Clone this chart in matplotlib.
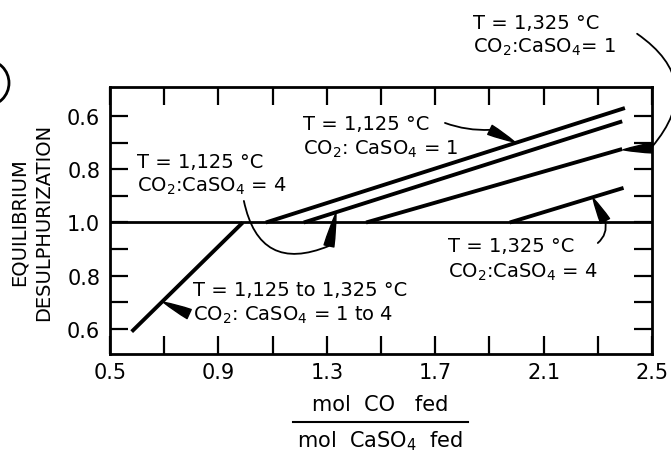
import numpy as np
import matplotlib
matplotlib.use("Agg")
import matplotlib.pyplot as plt
from matplotlib.lines import Line2D
from matplotlib.patches import Ellipse

# plotted y is a folded scale: 0 is desulphurization 1.0, +/-0.4 is 0.6
x_common = [0.58, 0.99]
y_common = [-0.41, 0.0]

x_1125_r1 = [1.075, 2.40]
y_1125_r1 = [0.0, 0.43]
x_1125_r4 = [1.215, 2.39]
y_1125_r4 = [0.0, 0.38]
x_1325_r1 = [1.445, 2.39]
y_1325_r1 = [0.0, 0.276]
x_1325_r4 = [1.975, 2.395]
y_1325_r4 = [0.0, 0.13]

x_major = [0.5, 0.9, 1.3, 1.7, 2.1, 2.5]
x_minor = [0.7, 1.1, 1.5, 1.9, 2.3]
y_major = [-0.4, -0.2, 0.0, 0.2, 0.4]
y_major_labels = ['0.6', '0.8', '1.0', '0.8', '0.6']
y_minor = [-0.3, -0.1, 0.1, 0.3]

W, H = 671, 460
FS = 14
LW = 2.8

fig = plt.figure(figsize=(W / 100, H / 100), dpi=100)
ax = fig.add_axes([110 / W, 1 - 355 / H, (652 - 110) / W, (355 - 88) / H])

ax.plot(x_common, y_common, color='black', lw=LW, solid_capstyle='butt')
for xs, ys in [(x_1125_r1, y_1125_r1), (x_1125_r4, y_1125_r4),
               (x_1325_r1, y_1325_r1), (x_1325_r4, y_1325_r4)]:
    ax.plot(xs, ys, color='black', lw=LW, solid_capstyle='butt')
ax.axhline(0.0, color='black', lw=2.0)

ax.set_xlim(0.5, 2.5)
ax.set_ylim(-0.494, 0.509)

ax.set_xticks(x_major)
ax.set_xticklabels([f'{v:.1f}' for v in x_major])
ax.set_xticks(x_minor, minor=True)
ax.set_yticks(y_major)
ax.set_yticklabels(y_major_labels)
ax.set_yticks(y_minor, minor=True)
for which in ('major', 'minor'):
    ax.tick_params(which=which, direction='in', length=13, width=1.6,
                   top=True, right=True, labelsize=15)
ax.tick_params(axis='x', pad=6)
ax.tick_params(axis='y', pad=7)
for sp in ax.spines.values():
    sp.set_linewidth(2.0)

fig.text(19 / W, 1 - 222 / H, 'EQUILIBRIUM', rotation=90, ha='center', va='center', fontsize=14)
fig.text(44 / W, 1 - 222 / H, 'DESULPHURIZATION', rotation=90, ha='center', va='center', fontsize=14)

fig.text(380 / W, 1 - 405 / H, 'mol  CO   fed', ha='center', va='center', fontsize=15)
fig.text(380 / W, 1 - 441 / H, 'mol  CaSO$_4$  fed', ha='center', va='center', fontsize=15)
fig.add_artist(Line2D([293 / W, 468 / W], [1 - 423 / H, 1 - 423 / H], color='black', lw=1.5))

fig.add_artist(Ellipse((-14 / W, 1 - 84 / H), 46 / W, 46 / H, fill=False, lw=2.0, color='black'))

labels = [
    (0.60, 0.209, 'T = 1,125 °C'), (0.60, 0.118, 'CO$_2$:CaSO$_4$ = 4'),
    (1.212, 0.352, 'T = 1,125 °C'), (1.212, 0.258, 'CO$_2$: CaSO$_4$ = 1'),
    (1.84, 0.731, 'T = 1,325 °C'), (1.84, 0.641, 'CO$_2$:CaSO$_4$= 1'),
    (1.747, -0.107, 'T = 1,325 °C'), (1.747, -0.205, 'CO$_2$:CaSO$_4$ = 4'),
    (0.806, -0.273, 'T = 1,125 to 1,325 °C'), (0.806, -0.367, 'CO$_2$: CaSO$_4$ = 1 to 4'),
]
for x, y, s in labels:
    ax.text(x, y, s, ha='left', va='baseline', fontsize=FS, clip_on=False)

# thin leader curves
thin = [
    ((0.994, 0.081), (1.308, -0.088), 0.6),
    ((1.736, 0.374), (1.902, 0.348), 0.1),
    ((2.445, 0.709), (2.50, 0.284), -0.55),
    ((2.30, -0.077), (2.327, 0.006), 0.3),
]
for start, end, rad in thin:
    ax.annotate('', xy=end, xytext=start, annotation_clip=False,
                arrowprops=dict(arrowstyle='-', color='black', lw=1.3,
                                shrinkA=0, shrinkB=0,
                                connectionstyle=f'arc3,rad={rad}'))

# wedge arrow heads
wedges = [
    ((1.308, -0.088), (1.334, 0.036)),
    ((1.902, 0.348), (1.994, 0.302)),
    ((2.50, 0.280), (2.393, 0.273)),
    ((2.327, 0.006), (2.282, 0.092)),
    ((0.792, -0.344), (0.696, -0.299)),
]
for start, end in wedges:
    ax.annotate('', xy=end, xytext=start, annotation_clip=False,
                arrowprops=dict(arrowstyle='wedge,tail_width=0.6,shrink_factor=0.6',
                                fc='black', ec='black', mutation_scale=12,
                                shrinkA=0, shrinkB=0))

fig.savefig('out.png', dpi=100)
